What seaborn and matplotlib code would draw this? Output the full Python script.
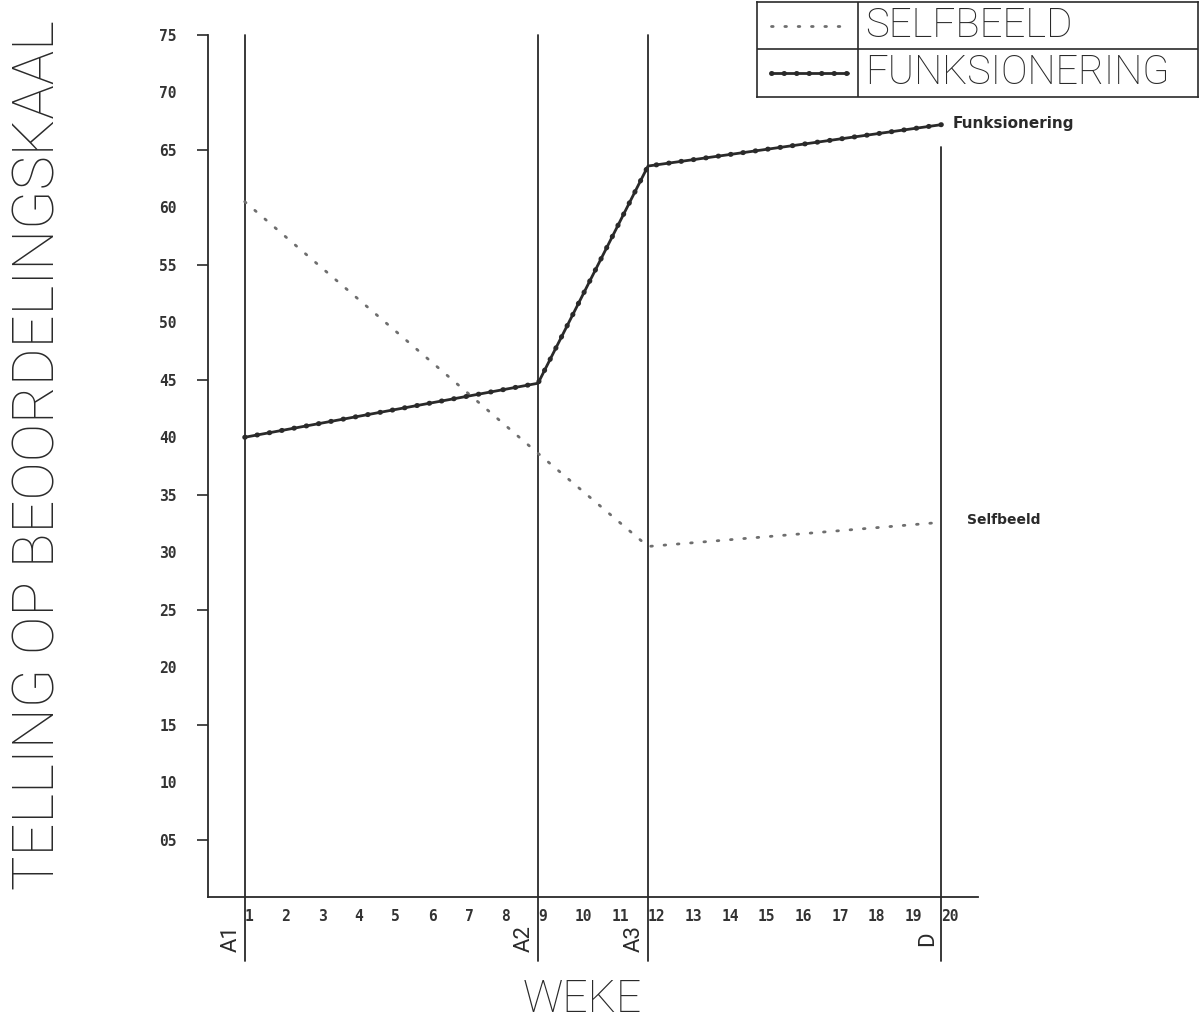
import matplotlib
matplotlib.use("Agg")
import matplotlib.pyplot as plt
import seaborn as sns
import pandas as pd

# Data
weke = [1, 9, 12, 20]
selfbeeld = [60.5, 38.6, 30.5, 32.6]
funksionering = [40.0, 44.7, 63.6, 67.2]
fases = ['A1', 'A2', 'A3', 'D']
fase_bo = [75, 75, 75, 65.3]
x_ticks = list(range(1, 21))
y_ticks = list(range(5, 80, 5))

df = pd.DataFrame({'Weke': weke, 'Selfbeeld': selfbeeld, 'Funksionering': funksionering})

sns.set_style('white')
plt.rcParams['font.family'] = ['DejaVu Sans']

ink = '#2a2a2a'
grys = '#6e6e6e'
fig = plt.figure(figsize=(12.04, 10.27), dpi=100)
ax = fig.add_axes([0.1728, 0.1266, 0.6395, 0.8393])

# fase-lyne
for x, top, naam in zip(weke, fase_bo, fases):
    ax.plot([x, x], [-5.6, top], color=ink, lw=1.3, clip_on=False, zorder=1)
    ax.text(x - 0.08, -3.6, naam, rotation=90, ha='right', va='center',
            fontsize=16, color=ink, family='Roboto')

# Selfbeeld: stippellyn
sns.lineplot(data=df, x='Weke', y='Selfbeeld', ax=ax, color=grys,
             linestyle=(0, (0.6, 4.2)), lw=2.0, dash_capstyle='round', zorder=3)
# Funksionering: lyn met krale
sns.lineplot(data=df, x='Weke', y='Funksionering', ax=ax, color=ink, lw=2.0, zorder=3)
sns.lineplot(data=df, x='Weke', y='Funksionering', ax=ax, color=ink,
             linestyle=(0, (0.1, 2.4)), lw=3.6, dash_capstyle='round', zorder=3)

ax.text(20.3, 67.3, 'Funksionering', fontsize=11, fontweight='bold', color=ink,
        va='center', ha='left')
ax.text(20.7, 32.8, 'Selfbeeld', fontsize=10, fontweight='bold', color=ink,
        va='center', ha='left')

ax.set_xlim(0, 21)
ax.set_ylim(0, 75)
for s in ['top', 'right']:
    ax.spines[s].set_visible(False)
for s in ['left', 'bottom']:
    ax.spines[s].set_color(ink)
    ax.spines[s].set_linewidth(1.3)

ax.set_xticks(x_ticks)
ax.set_xticklabels([str(v) for v in x_ticks], ha='left', fontsize=10.5,
                   fontweight='bold', family='DejaVu Sans Mono', color='#333333')
ax.tick_params(axis='x', direction='in', length=3, width=1, color=ink, pad=9)

major = [v for v in y_ticks if v % 10 == 0]
minor = [v for v in y_ticks if v % 10 != 0]
ax.set_yticks(major)
ax.set_yticklabels([f'{v:02d}' for v in major])
ax.set_yticks(minor, minor=True)
ax.set_yticklabels([f'{v:02d}' for v in minor], minor=True)
ax.tick_params(axis='y', which='major', direction='out', length=16.5, width=1.2,
               color=ink, pad=6, labelsize=10.5, labelcolor='#333333')
ax.tick_params(axis='y', which='minor', direction='out', length=8, width=1.2,
               color=ink, pad=14.5, labelsize=10.5, labelcolor='#333333', left=True)
for lbl in ax.get_yticklabels() + ax.get_yticklabels(minor=True):
    lbl.set_family('DejaVu Sans Mono')
    lbl.set_fontweight('bold')

ax.set_xlabel('')
ax.set_ylabel('')
fig.text(0.032, 0.557, 'TELLING OP BEOORDELINGSKAAL', rotation=90, ha='center',
         va='center', fontsize=41.5, color=ink, family='Roboto', fontweight='light')
fig.text(0.484, 0.027, 'WEKE', ha='center', va='center', fontsize=32,
         color=ink, family='Roboto', fontweight='light')

# legende-tabel
lax = fig.add_axes([0.629, 0.906, 0.366, 0.092])
lax.set_xlim(0, 1)
lax.set_ylim(0, 2)
lax.set_xticks([])
lax.set_yticks([])
for s in lax.spines.values():
    s.set_color(ink)
    s.set_linewidth(1.2)
lax.axhline(1, color=ink, lw=1.2)
lax.axvline(0.229, color=ink, lw=1.2)
lax.plot([0.03, 0.205], [1.5, 1.5], color=grys, linestyle=(0, (0.6, 4.2)),
         lw=2.0, dash_capstyle='round')
lax.plot([0.03, 0.205], [0.5, 0.5], color=ink, lw=2.0)
lax.plot([0.03, 0.205], [0.5, 0.5], color=ink, linestyle=(0, (0.1, 2.4)),
         lw=3.6, dash_capstyle='round')
lax.text(0.245, 1.5, 'SELFBEELD', va='center', ha='left', fontsize=29,
         color=ink, family='Roboto', fontweight='light')
lax.text(0.245, 0.5, 'FUNKSIONERING', va='center', ha='left', fontsize=28.5,
         color=ink, family='Roboto', fontweight='light')

fig.savefig('out.png', dpi=100)
